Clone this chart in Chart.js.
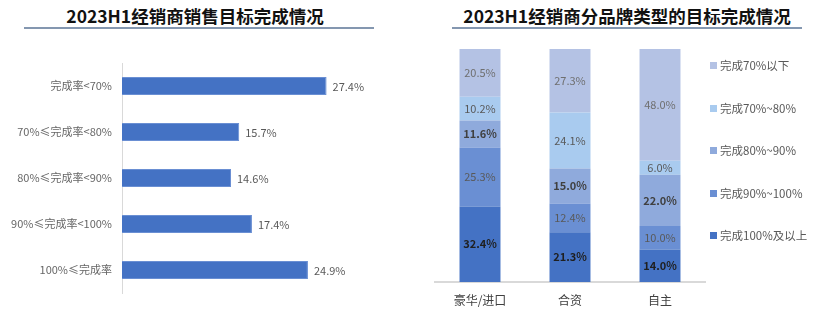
<!DOCTYPE html>
<html>
<head>
<meta charset="utf-8">
<script src="https://cdn.jsdelivr.net/npm/chart.js@4.4.0/dist/chart.umd.min.js"></script>
<style>
  html, body { margin: 0; padding: 0; background: #fff; }
  body { width: 820px; height: 322px; position: relative; overflow: hidden;
         font-family: "Noto Sans CJK SC", sans-serif; }
  .title { position: absolute; top: 4px; font-size: 17.5px; font-weight: bold; color: #111;
           text-align: center; line-height: 24px; }
  .rule { position: absolute; top: 27px; height: 2px; background: #8497b0; }
  .panel { position: absolute; top: 0; height: 322px; }
  #legend { position: absolute; left: 710px; top: 0; }
  .lg { position: absolute; white-space: nowrap; font-size: 11.5px; color: #595959; line-height: 16px; }
  .lg i { display: inline-block; width: 7px; height: 7px; margin-right: 3px; vertical-align: 1px; }
</style>
</head>
<body>
<div class="title" style="left:0;width:390px">2023H1经销商销售目标完成情况</div>
<div class="rule" style="left:24px;width:350px"></div>
<div class="title" style="left:440px;width:374px">2023H1经销商分品牌类型的目标完成情况</div>
<div class="rule" style="left:452px;width:350px"></div>

<div class="panel" style="left:0;width:410px"><canvas id="rate-chart"></canvas></div>
<div class="panel" style="left:420px;width:400px"><canvas id="brand-chart"></canvas></div>
<div id="legend"></div>

<script>
// 经销商销售目标完成率分布
const rateLabels = ['完成率<70%', '70%≤完成率<80%', '80%≤完成率<90%', '90%≤完成率<100%', '100%≤完成率'];
const rateValues = [27.4, 15.7, 14.6, 17.4, 24.9];

// 分品牌类型：各完成区间占比（自下而上堆叠）
const brandTypes = ['豪华/进口', '合资', '自主'];
const tier100Up = [32.4, 21.3, 14.0];
const tier90to100 = [25.3, 12.4, 10.0];
const tier80to90 = [11.6, 15.0, 22.0];
const tier70to80 = [10.2, 24.1, 6.0];
const tierBelow70 = [20.5, 27.3, 48.0];

const FONT = '"Noto Sans CJK SC", sans-serif';
const pct = v => v.toFixed(1) + '%';

// value labels for horizontal bars, placed after the bar end
const barEndLabels = {
  id: 'barEndLabels',
  afterDatasetsDraw(chart) {
    const { ctx } = chart;
    ctx.save();
    ctx.font = `11px ${FONT}`;
    ctx.fillStyle = '#595959';
    ctx.textAlign = 'left';
    ctx.textBaseline = 'middle';
    chart.getDatasetMeta(0).data.forEach((bar, i) => {
      ctx.fillText(pct(rateValues[i]), bar.x + 6, bar.y + 1);
    });
    ctx.restore();
  }
};

new Chart(document.getElementById('rate-chart'), {
  type: 'bar',
  data: {
    labels: rateLabels,
    datasets: [{
      data: rateValues,
      backgroundColor: '#4472c4',
      borderColor: '#6a8fd3',
      borderWidth: { top: 1, right: 1, bottom: 1, left: 0 },
      barPercentage: 0.78,
      categoryPercentage: 0.5
    }]
  },
  options: {
    indexAxis: 'y',
    responsive: true,
    maintainAspectRatio: false,
    animation: false,
    layout: { padding: { top: 63, bottom: 29, right: 64, left: 0 } },
    plugins: { legend: { display: false }, tooltip: { enabled: false } },
    scales: {
      x: { display: false, min: 0, max: 30 },
      y: {
        grid: { display: false, drawTicks: false },
        border: { display: true, color: '#d9d9d9', width: 1 },
        ticks: { color: '#666666', font: { family: FONT, size: 11 }, padding: 10 },
        afterFit: s => { s.width = 122; }
      }
    }
  },
  plugins: [barEndLabels]
});

// series drawn bottom-up; legend lists them top-down
const tiers = [
  { label: '完成100%及以上', data: tier100Up, color: '#4472c4', bold: true, text: '#1f1f1f' },
  { label: '完成90%~100%', data: tier90to100, color: '#6a8fd3', bold: false, text: '#595959' },
  { label: '完成80%~90%', data: tier80to90, color: '#8faadc', bold: true, text: '#404040' },
  { label: '完成70%~80%', data: tier70to80, color: '#a9cbef', bold: false, text: '#595959' },
  { label: '完成70%以下', data: tierBelow70, color: '#b4c2e4', bold: false, text: '#6f6f6f' }
];

// percentages centred in each stacked segment
const segmentLabels = {
  id: 'segmentLabels',
  afterDatasetsDraw(chart) {
    const { ctx } = chart;
    ctx.save();
    ctx.textAlign = 'center';
    ctx.textBaseline = 'middle';
    chart.data.datasets.forEach((ds, di) => {
      const t = tiers[di];
      ctx.font = `${t.bold ? 'bold ' : ''}11px ${FONT}`;
      ctx.fillStyle = t.text;
      chart.getDatasetMeta(di).data.forEach((bar, i) => {
        ctx.fillText(pct(ds.data[i]), bar.x, (bar.y + bar.base) / 2);
      });
    });
    ctx.restore();
  }
};

new Chart(document.getElementById('brand-chart'), {
  type: 'bar',
  data: {
    labels: brandTypes,
    datasets: tiers.map(t => ({
      label: t.label,
      data: t.data,
      backgroundColor: t.color,
      barPercentage: 0.455,
      categoryPercentage: 1
    }))
  },
  options: {
    responsive: true,
    maintainAspectRatio: false,
    animation: false,
    layout: { padding: { top: 49, bottom: 0, left: 15, right: 115 } },
    plugins: { legend: { display: false }, tooltip: { enabled: false } },
    scales: {
      x: {
        stacked: true,
        grid: { display: false, drawTicks: false },
        border: { display: true, color: '#d9d9d9', width: 2 },
        ticks: { color: '#404040', font: { family: FONT, size: 12 }, padding: 11 },
        afterFit: s => { s.height = 40; }
      },
      y: { stacked: true, display: false, min: 0, max: 100 }
    }
  },
  plugins: [segmentLabels]
});

// legend, top tier first
const legend = document.getElementById('legend');
tiers.slice().reverse().forEach((t, i) => {
  const row = document.createElement('div');
  row.className = 'lg';
  row.style.top = (57 + i * 42.5) + 'px';
  row.innerHTML = `<i style="background:${t.color}"></i>${t.label}`;
  legend.appendChild(row);
});
</script>
</body>
</html>
